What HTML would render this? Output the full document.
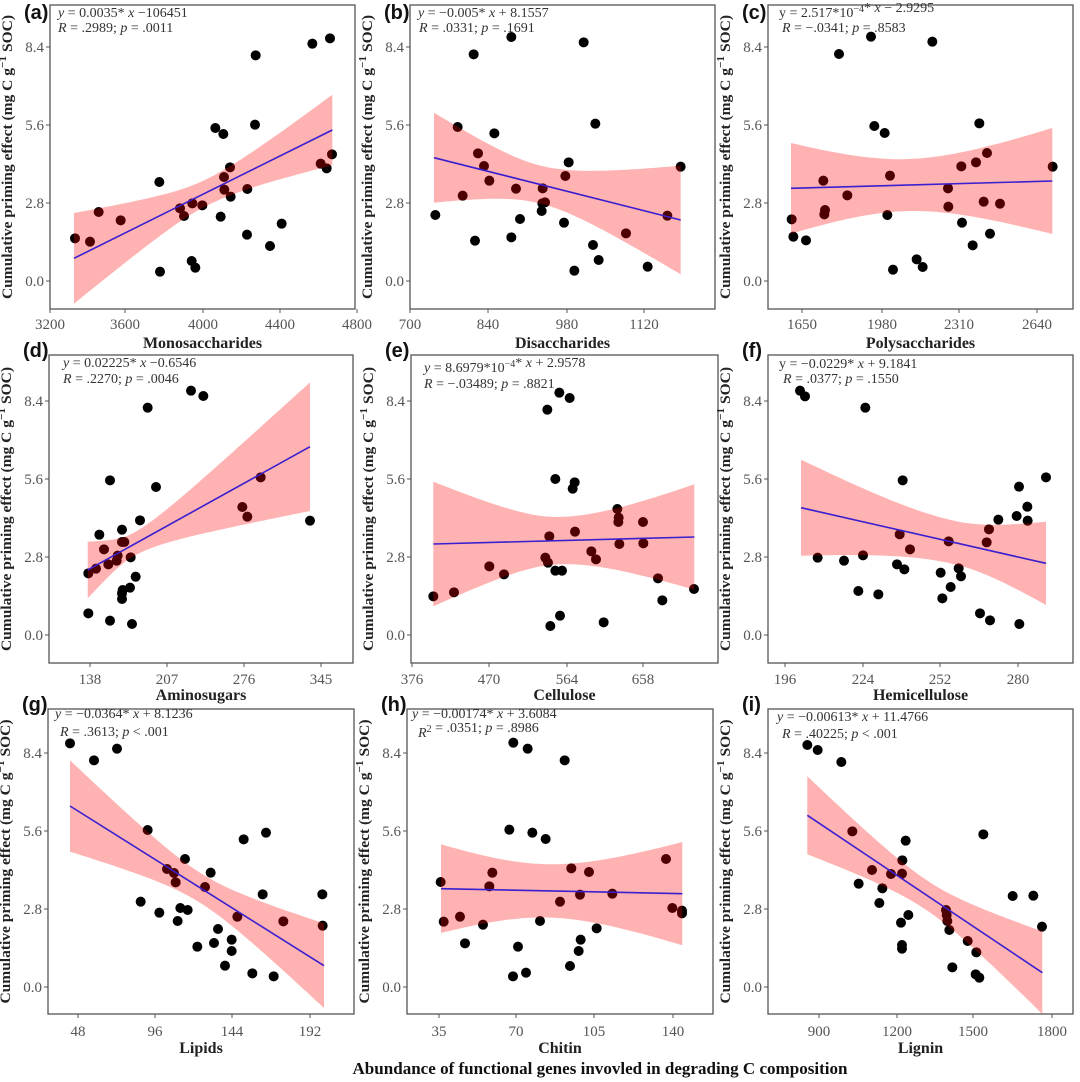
<!DOCTYPE html>
<html><head><meta charset="utf-8">
<style>
html,body{margin:0;padding:0;background:#fff;}
svg{display:block;}
text{font-family:"Liberation Serif",serif;}
</style></head>
<body>
<svg id="s" width="1080" height="1082" viewBox="0 0 1080 1082" xmlns="http://www.w3.org/2000/svg">
<text x="600" y="1074" text-anchor="middle" font-weight="bold" font-size="17" textLength="495" lengthAdjust="spacingAndGlyphs" fill="#111">Abundance of functional genes invovled in degrading C composition</text>
</svg>
<script>
var NS="http://www.w3.org/2000/svg",S=document.getElementById("s");
function el(t,a,txt,p){var e=document.createElementNS(NS,t);for(var k in a)e.setAttribute(k,a[k]);if(txt!=null)e.textContent=txt;(p||S).appendChild(e);return e;}
var rows=[{T:5,B:309,y84:47,y0:281,tl:329,tt:348,let:19},
          {T:355,B:663,y84:401,y0:635,tl:684,tt:700,let:357},
          {T:709,B:1014,y84:753,y0:987,tl:1036,tt:1053,let:711}];
var P=[
{r:0,L:50,R:355,ox:0,oy:0,lab:"(a)",name:"Monosaccharides",xt:[["3200",50],["3600",125],["4000",203],["4400",280],["4800",357]],
 eq:[58,17,58,32,[["y","i"],[" = 0.0035* "],["x","i"],[" \u2212106451"]],[["R","i"],[" = .2989; "],["p","i"],[" = .0011"]]],
 band:[222,997,775,390,136,106,40,620],
 pts:[[225,715],[270,725],[296,636],[362,661],[478,546],[480,815],[540,625],[552,648],[577,610],[575,783],[586,803],[607,616],[646,384],[662,650],[670,402],[672,531],[673,569],[690,502],[692,590],[742,567],[741,704],[767,166],[765,374],[810,738],[845,671],[937,131],[962,491],[980,505],[990,115],[996,463]]},
{r:0,L:410,R:715,ox:360,oy:0,lab:"(b)",name:"Disaccharides",xt:[["700",410],["840",488],["980",567],["1120",644]],
 eq:[418,17,419,32,[["y","i"],[" = \u22120.005* "],["x","i"],[" + 8.1557"]],[["R","i"],[" =  .0331; "],["p","i"],[" = .1691"]]],
 band:[222,962,473,660,135,163,57,540],
 pts:[[226,645],[293,381],[308,587],[341,163],[345,722],[354,460],[372,498],[388,542],[403,400],[454,111],[454,712],[468,566],[480,657],[545,633],[547,610],[548,565],[555,607],[612,668],[616,528],[626,487],[643,812],[671,127],[699,735],[706,371],[716,780],[798,700],[863,800],[922,647],[962,500]]},
{r:0,L:768,R:1073,ox:720,oy:0,lab:"(c)",name:"Polysaccharides",xt:[["1650",802],["1980",882],["2310",959],["2640",1037]],
 eq:[779,17,782,32,[["y = 2.517*10"],["\u22124","s"],["* "],["x","i"],[" \u2212 2.9295"]],[["R","i"],[" = \u2212.0341; "],["p","i"],[" = .8583"]]],
 band:[213,997,565,543,136,159,78,560],
 pts:[[215,658],[220,710],[258,721],[310,542],[313,643],[315,630],[382,586],[357,162],[453,110],[463,378],[494,399],[502,645],[510,527],[519,809],[590,778],[608,801],[637,125],[684,565],[685,620],[724,499],[726,668],[758,736],[768,487],[778,370],[791,605],[801,459],[810,701],[840,611],[998,500]]},
{r:1,L:49,R:353,ox:0,oy:340,lab:"(d)",name:"Aminosugars",xt:[["138",90],["207",167],["276",244],["345",321]],
 eq:[63,367,63,383,[["y","i"],[" =  0.02225* "],["x","i"],[" \u22120.6546"]],[["R","i"],[" = .2270; "],["p","i"],[" = .0046"]]],
 band:[263,930,690,320,85,193,35,400],
 pts:[[265,700],[265,820],[288,686],[298,584],[312,628],[325,673],[330,421],[330,842],[350,662],[353,647],[366,569],[366,606],[373,606],[366,760],[368,750],[366,777],[392,652],[390,743],[396,852],[407,710],[420,541],[443,203],[468,441],[573,152],[610,168],[727,501],[742,530],[782,412],[930,542]]},
{r:1,L:411,R:718,ox:360,oy:340,lab:"(e)",name:"Cellulose",xt:[["376",412],["470",489],["564",567],["658",643]],
 eq:[424,372,424,388,[["y","i"],[" = 8.6979*10"],["\u22124","s"],["* "],["x","i"],[" + 2.9578"]],[["R","i"],[" = \u2212.03489; "],["p","i"],[" = .8821"]]],
 band:[220,1003,612,591,187,158,71,600],
 pts:[[220,769],[282,757],[388,679],[432,703],[556,653],[562,209],[564,668],[568,589],[571,858],[586,417],[586,692],[598,158],[600,827],[606,692],[629,174],[638,446],[644,427],[645,575],[694,634],[708,658],[731,847],[772,507],[776,533],[775,546],[778,612],[849,546],[850,610],[894,715],[907,781],[1002,747]]},
{r:1,L:768,R:1073,ox:720,oy:340,lab:"(f)",name:"Hemicellulose",xt:[["196",785],["224",863],["252",940],["280",1018]],
 eq:[779,368,783,383,[["y = \u22120.0229* "],["x","i"],[" + 9.1841"]],[["R","i"],[" = .0377; "],["p","i"],[" = .1550"]]],
 band:[243,978,503,670,144,125,65,700],
 pts:[[240,152],[255,169],[293,653],[372,662],[415,753],[429,646],[436,203],[475,763],[531,673],[539,583],[548,421],[553,688],[570,628],[662,698],[667,775],[686,604],[692,741],[716,685],[723,709],[780,820],[800,607],[807,568],[810,841],[835,539],[890,528],[897,440],[898,852],[922,500],[923,542],[978,412]]},
{r:2,L:48,R:354,ox:0,oy:700,lab:"(g)",name:"Lipids",xt:[["48",78],["96",155],["144",232],["192",310]],
 eq:[55,718,60,736,[["y","i"],[" = \u22120.0364* "],["x","i"],[" +  8.1236"]],[["R","i"],[" =  .3613; "],["p","i"],[" < .001"]]],
 band:[210,972,318,797,137,127,45,600],
 pts:[[210,130],[282,181],[351,146],[422,605],[443,390],[478,638],[501,507],[522,519],[527,547],[533,663],[541,624],[555,477],[563,630],[592,740],[615,561],[632,518],[642,729],[654,687],[675,797],[695,719],[695,753],[712,650],[731,418],[757,820],[788,583],[798,398],[821,829],[850,664],[967,583],[968,677]]},
{r:2,L:407,R:713,ox:360,oy:700,lab:"(h)",name:"Chitin",xt:[["35",439],["70",516],["105",594],["140",673]],
 eq:[412,718,418,737,[["y","i"],[" = \u22120.00174* "],["x","i"],[" + 3.6084"]],[["R","i"],["2","s"],[" = .0351; "],["p","i"],[" = .8986"]]],
 band:[243,967,566,581,133,155,80,560],
 pts:[[242,546],[251,665],[300,650],[315,730],[369,674],[388,559],[397,518],[448,389],[460,128],[459,829],[474,740],[498,818],[503,146],[517,398],[540,663],[557,417],[600,605],[614,181],[630,798],[634,505],[656,753],[660,584],[662,719],[687,516],[710,685],[757,581],[918,477],[937,624],[966,632],[966,640]]},
{r:2,L:768,R:1073,ox:700,oy:700,lab:"(i)",name:"Lignin",xt:[["900",819],["1200",897],["1500",973],["1800",1052]],
 eq:[777,721,782,738,[["y","i"],[" = \u22120.00613* "],["x","i"],[" + 11.4766"]],[["R","i"],[" = .40225; "],["p","i"],[" < .001"]]],
 band:[322,1027,346,818,117,124,45,680],
 pts:[[322,135],[353,150],[424,186],[457,394],[476,551],[516,510],[538,609],[547,565],[573,522],[603,668],[606,521],[607,481],[606,735],[606,746],[617,422],[625,645],[738,630],[740,645],[742,663],[748,690],[757,802],[803,723],[827,823],[829,757],[838,833],[850,403],[938,588],[1000,587],[1026,680]]}
];
P.forEach(function(p){
  var rw=rows[p.r],L=p.L,R=p.R,T=rw.T,B=rw.B;
  var g=el("g",{});
  // points
  p.pts.forEach(function(q){el("circle",{cx:p.ox+q[0]/3,cy:p.oy+q[1]/3,r:5,fill:"#000"},null,g);});
  // band
  var b=p.band,x0=b[0],x1=b[1],ly0=b[2],ly1=b[3],hL=b[4],hR=b[5],hm=b[6],xm=b[7];
  var up=[],lo=[];
  for(var i=0;i<=60;i++){
    var x=x0+(x1-x0)*i/60,ly=ly0+(ly1-ly0)*(x-x0)/(x1-x0);
    var he=x<xm?hL:hR,xe=x<xm?x0:x1,t=(x-xm)/(xe-xm);
    var hw=Math.sqrt(hm*hm+(he*he-hm*hm)*t*t);
    up.push((p.ox+x/3).toFixed(1)+","+(p.oy+(ly-hw)/3).toFixed(1));
    lo.unshift((p.ox+x/3).toFixed(1)+","+(p.oy+(ly+hw)/3).toFixed(1));
  }
  el("polygon",{points:up.concat(lo).join(" "),fill:"#ff0000","fill-opacity":"0.3"},null,g);
  el("line",{x1:p.ox+x0/3,y1:p.oy+ly0/3,x2:p.ox+x1/3,y2:p.oy+ly1/3,stroke:"#3a1fd0","stroke-width":1.6},null,g);
  // box
  el("rect",{x:L,y:T,width:R-L,height:B-T,fill:"none",stroke:"#555","stroke-width":1.3},null,g);
  // y ticks
  [0,2.8,5.6,8.4].forEach(function(v){
    var y=rw.y0+(rw.y84-rw.y0)*v/8.4;
    el("line",{x1:L-4,y1:y,x2:L,y2:y,stroke:"#555","stroke-width":1},null,g);
    el("text",{x:L-6,y:y+5,"text-anchor":"end","font-size":15,fill:"#555"},v.toFixed(1),g);
  });
  p.xt.forEach(function(t){
    el("line",{x1:t[1],y1:B,x2:t[1],y2:B+4,stroke:"#555","stroke-width":1},null,g);
    el("text",{x:t[1],y:rw.tl,"text-anchor":"middle","font-size":15,fill:"#555"},t[0],g);
  });
  el("text",{x:(L+R)/2,y:rw.tt,"text-anchor":"middle","font-size":16,"font-weight":"bold",fill:"#222"},p.name,g);
  // y label
  var cy=(T+B)/2,cx=L-38;
  var yl=el("text",{x:cx,y:cy,"text-anchor":"middle","font-size":15,"font-weight":"bold",fill:"#222",transform:"rotate(-90 "+cx+" "+cy+")",textLength:284,lengthAdjust:"spacingAndGlyphs"},null,g);
  el("tspan",{},"Cumulative priming effect (mg C g",yl);
  el("tspan",{dy:-6,"font-size":11},"\u22121",yl);
  el("tspan",{dy:6}," SOC)",yl);
  // letter
  el("text",{x:L-26,y:rw.let,"font-size":20,"font-weight":"bold",fill:"#111","font-family":"Liberation Sans, sans-serif",style:"font-family:'Liberation Sans',sans-serif"},p.lab,g);
  // equations
  var e=p.eq;
  [[e[0],e[1],e[4]],[e[2],e[3],e[5]]].forEach(function(ln){
    var t=el("text",{x:ln[0],y:ln[1],"font-size":14,fill:"#333"},null,g);
    ln[2].forEach(function(s){
      if(s[1]=="i")el("tspan",{"font-style":"italic"},s[0],t);
      else if(s[1]=="s"){el("tspan",{dy:-5,"font-size":10},s[0],t);el("tspan",{dy:5},"",t);}
      else el("tspan",{},s[0],t);
    });
  });
});
</script>
</body></html>
